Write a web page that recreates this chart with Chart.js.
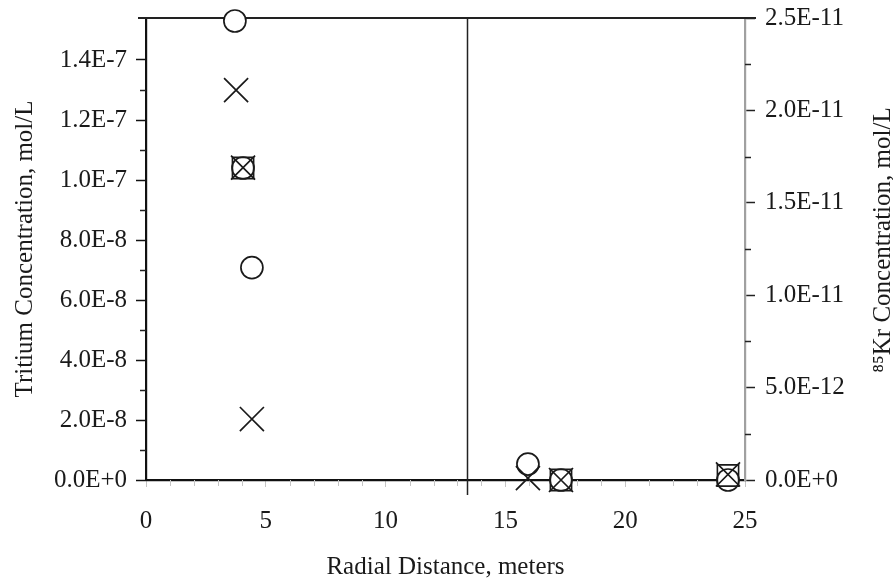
<!DOCTYPE html>
<html>
<head>
<meta charset="utf-8">
<script src="https://cdn.jsdelivr.net/npm/chart.js@4/dist/chart.umd.min.js"></script>
<style>
  html, body { margin: 0; padding: 0; background: #ffffff; }
  #wrap { width: 893px; height: 583px; position: relative; }
</style>
</head>
<body>
<div id="wrap"><canvas id="c" width="893" height="583"></canvas></div>
<script>
// ---- data ----
const tritiumX = [3.71, 4.05, 4.42, 15.94, 17.32, 24.29];
const tritiumY = [1.53e-7, 1.04e-7, 7.08e-8, 5.3e-9, 0, 0];

const kryptonX = [3.76, 4.05, 4.42, 15.94, 17.32, 24.29];
const kryptonY = [2.11e-11, 1.69e-11, 3.3e-12, 1e-13, 0, 3e-13];

const squareX = [4.05, 17.32, 24.29];
const squareY = [1.04e-7, 0, 1.5e-9];

const dividerX = 13.4;

const xTicks = [0, 5, 10, 15, 20, 25];
const xMinorTicks = [1,2,3,4,6,7,8,9,11,12,13,14,16,17,18,19,21,22,23,24];
const leftTicks = [0, 2e-8, 4e-8, 6e-8, 8e-8, 1e-7, 1.2e-7, 1.4e-7];
const leftTickLabels = ['0.0E+0','2.0E-8','4.0E-8','6.0E-8','8.0E-8','1.0E-7','1.2E-7','1.4E-7'];
const leftMinorTicks = [1e-8, 3e-8, 5e-8, 7e-8, 9e-8, 1.1e-7, 1.3e-7];
const rightTicks = [0, 5e-12, 1e-11, 1.5e-11, 2e-11, 2.5e-11];
const rightTickLabels = ['0.0E+0','5.0E-12','1.0E-11','1.5E-11','2.0E-11','2.5E-11'];
const rightMinorTicks = [2.5e-12, 7.5e-12, 1.25e-11, 1.75e-11, 2.25e-11];

const xTitle = 'Radial Distance, meters';
const leftTitle = 'Tritium Concentration, mol/L';
const rightTitle = '\u2078\u2075Kr Concentration, mol/L';

const FONT = "'Liberation Serif', 'Times New Roman', serif";
const INK = '#1a1a1a';

const pts = (xs, ys) => xs.map((x, i) => ({ x: x, y: ys[i] }));

function noPad(s) {
  s.paddingTop = 0; s.paddingBottom = 0; s.paddingLeft = 0; s.paddingRight = 0;
}

const framePlugin = {
  id: 'frame',
  beforeDatasetsDraw(chart) {
    const ctx = chart.ctx;
    const sx = chart.scales.x, sy = chart.scales.y, sy1 = chart.scales.y1;
    const ca = chart.chartArea;
    ctx.save();
    // top frame line
    ctx.strokeStyle = '#222';
    ctx.lineWidth = 2.2;
    ctx.beginPath();
    ctx.moveTo(ca.left - 8, ca.top);
    ctx.lineTo(ca.right + 11, ca.top);
    ctx.stroke();
    // divider line
    const dx = Math.round(sx.getPixelForValue(dividerX)) + 0.5;
    ctx.lineWidth = 1.5;
    ctx.beginPath();
    ctx.moveTo(dx, ca.top);
    ctx.lineTo(dx, ca.bottom + 15);
    ctx.stroke();
    // left minor ticks
    ctx.lineWidth = 1.5;
    ctx.strokeStyle = '#222';
    leftMinorTicks.forEach(v => {
      const py = Math.round(sy.getPixelForValue(v)) + 0.5;
      ctx.beginPath(); ctx.moveTo(ca.left - 6, py); ctx.lineTo(ca.left, py); ctx.stroke();
    });
    // right minor ticks
    rightMinorTicks.forEach(v => {
      const py = Math.round(sy1.getPixelForValue(v)) + 0.5;
      ctx.beginPath(); ctx.moveTo(ca.right, py); ctx.lineTo(ca.right + 6, py); ctx.stroke();
    });
    // x minor ticks
    ctx.strokeStyle = '#c4c4c4';
    ctx.lineWidth = 1;
    xMinorTicks.forEach(v => {
      const px = Math.round(sx.getPixelForValue(v)) + 0.5;
      ctx.beginPath(); ctx.moveTo(px, ca.bottom); ctx.lineTo(px, ca.bottom + 6); ctx.stroke();
    });
    ctx.restore();
  },
  afterDraw(chart) {
    const ctx = chart.ctx;
    ctx.save();
    ctx.fillStyle = INK;
    ctx.font = '25px ' + FONT;
    ctx.textAlign = 'center';
    ctx.textBaseline = 'middle';
    ctx.translate(883, 240);
    ctx.rotate(-Math.PI / 2);
    ctx.fillText(rightTitle, 0, 0);
    ctx.restore();
  }
};

const bgPlugin = {
  id: 'bg',
  beforeDraw(chart) {
    const ctx = chart.ctx;
    ctx.save();
    ctx.fillStyle = '#ffffff';
    ctx.fillRect(0, 0, chart.width, chart.height);
    ctx.restore();
  }
};

new Chart(document.getElementById('c'), {
  type: 'scatter',
  data: {
    datasets: [
      {
        label: 'Kr-85',
        data: pts(kryptonX, kryptonY),
        yAxisID: 'y1',
        pointStyle: 'crossRot',
        pointRadius: 17,
        pointHoverRadius: 17,
        borderColor: INK,
        backgroundColor: INK,
        pointBorderWidth: 1.7,
        order: 0,
        clip: false
      },
      {
        label: 'Squares',
        data: pts(squareX, squareY),
        yAxisID: 'y',
        pointStyle: 'rect',
        pointRadius: 15,
        pointHoverRadius: 15,
        borderColor: INK,
        backgroundColor: 'rgba(0,0,0,0)',
        pointBorderWidth: 1.6,
        order: 1,
        clip: false
      },
      {
        label: 'Tritium',
        data: pts(tritiumX, tritiumY),
        yAxisID: 'y',
        pointStyle: 'circle',
        pointRadius: 11,
        pointHoverRadius: 11,
        borderColor: INK,
        backgroundColor: '#ffffff',
        pointBorderWidth: 1.7,
        order: 2,
        clip: false
      }
    ]
  },
  options: {
    responsive: false,
    animation: false,
    devicePixelRatio: 1,
    layout: { autoPadding: false, padding: { top: 18, left: 0, right: 0, bottom: 0 } },
    plugins: {
      legend: { display: false },
      tooltip: { enabled: false },
      title: { display: false }
    },
    scales: {
      x: {
        type: 'linear',
        position: 'bottom',
        min: 0,
        max: 25,
        afterFit(s) { s.height = 103; noPad(s); },
        afterBuildTicks(s) { s.ticks = xTicks.map(v => ({ value: v })); },
        border: { display: true, color: '#111', width: 2.2 },
        grid: { drawOnChartArea: false, drawTicks: true, tickLength: 7, tickColor: '#c4c4c4', tickWidth: 1 },
        ticks: {
          autoSkip: false,
          maxRotation: 0,
          padding: 19,
          color: INK,
          font: { family: FONT, size: 25 },
          callback: (v, i) => String(xTicks[i])
        },
        title: {
          display: true,
          text: xTitle,
          color: INK,
          font: { family: FONT, size: 25 },
          padding: { top: 0, bottom: 1 }
        }
      },
      y: {
        type: 'linear',
        position: 'left',
        min: 0,
        max: 1.54e-7,
        afterFit(s) { s.width = 146; noPad(s); },
        afterBuildTicks(s) { s.ticks = leftTicks.map(v => ({ value: v })); },
        border: { display: true, color: '#111', width: 2.2 },
        grid: { drawOnChartArea: false, drawTicks: true, tickLength: 10, tickColor: '#111', tickWidth: 1.5 },
        ticks: {
          autoSkip: false,
          padding: 9,
          color: INK,
          font: { family: FONT, size: 25 },
          callback: (v, i) => leftTickLabels[i]
        },
        title: {
          display: true,
          text: leftTitle,
          color: INK,
          font: { family: FONT, size: 25 },
          padding: { top: 10, bottom: 0 }
        }
      },
      y1: {
        type: 'linear',
        position: 'right',
        min: 0,
        max: 2.5e-11,
        afterFit(s) { s.width = 148; noPad(s); },
        afterBuildTicks(s) { s.ticks = rightTicks.map(v => ({ value: v })); },
        border: { display: true, color: '#a0a0a0', width: 2.2 },
        grid: { drawOnChartArea: false, drawTicks: true, tickLength: 10, tickColor: '#222', tickWidth: 1.5 },
        ticks: {
          autoSkip: false,
          padding: 10,
          color: INK,
          font: { family: FONT, size: 25 },
          callback: (v, i) => rightTickLabels[i]
        },
        title: { display: false }
      }
    }
  },
  plugins: [bgPlugin, framePlugin]
});
</script>
</body>
</html>
